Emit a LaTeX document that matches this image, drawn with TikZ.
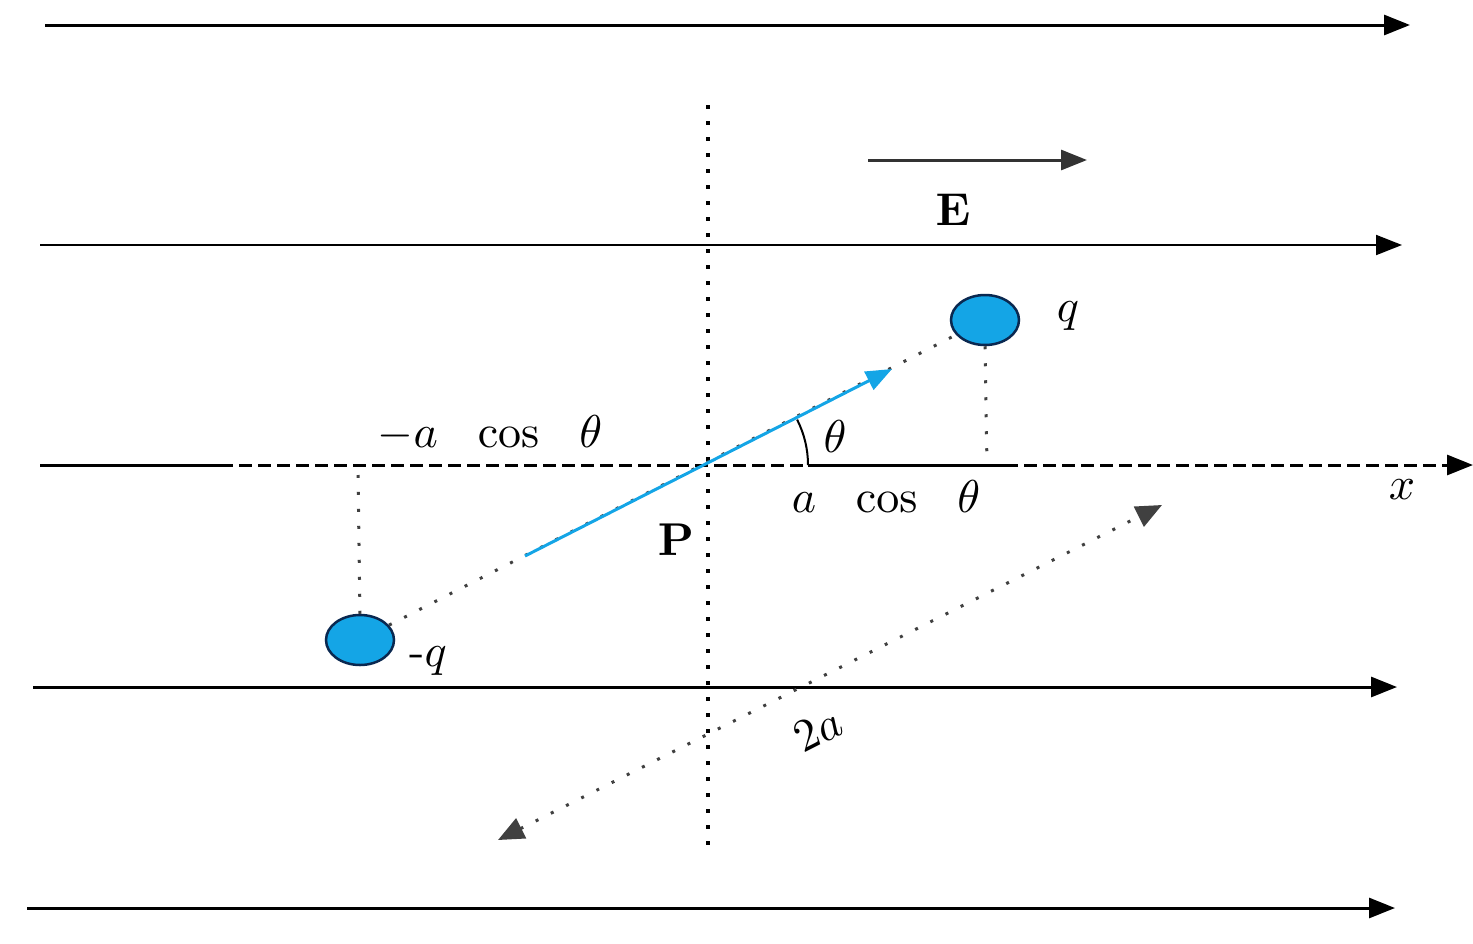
\documentclass[tikz,border=0pt]{standalone}
\usetikzlibrary{arrows.meta,shapes.geometric}
\definecolor{dipblue}{RGB}{20,165,230}
\definecolor{ringblue}{RGB}{10,40,80}
\begin{document}
\begin{tikzpicture}[x=1pt,y=-1pt,
  tipA/.style={-{Triangle[length=26pt,width=20pt]}},
  field/.style={line width=3pt,tipA},
  fieldthin/.style={line width=2pt,tipA},
  axis/.style={line width=3pt},
  axisdash/.style={line width=3pt,dash pattern=on 13pt off 6pt},
  vdot/.style={line width=4pt,dash pattern=on 4pt off 12pt},
  thindot/.style={line width=3pt,dash pattern=on 3pt off 14pt,black!75},
  charge/.style={ellipse,draw=ringblue,line width=2.5pt,fill=dipblue,minimum width=68pt,minimum height=50pt,inner sep=0pt},
  lbl/.style={inner sep=0pt,scale=4.6,transform shape}]
\useasboundingbox (0,0) rectangle (1473,943);
% field lines
\coordinate (f1a) at (45,25);   \coordinate (f1b) at (1410,25);
\coordinate (f2a) at (40,245);  \coordinate (f2b) at (1402,245);
\coordinate (f3a) at (33,687);  \coordinate (f3b) at (1397,687);
\coordinate (f4a) at (27,908);  \coordinate (f4b) at (1395,908);
\draw[field] (f1a) -- (f1b);
\draw[fieldthin] (f2a) -- (f2b);
\draw[field] (f3a) -- (f3b);
\draw[field] (f4a) -- (f4b);
% E arrow
\coordinate (ea) at (868,160); \coordinate (eb) at (1087,160);
\draw[line width=3pt,black!80,tipA] (ea) -- (eb);
\node[lbl] (E) at (953,210) {$\mathbf{E}$};
% x axis
\coordinate (P) at (708,465);
\coordinate (x0) at (40,465);
\coordinate (x1) at (220,465);
\coordinate (x2) at (808,465);
\coordinate (x3) at (1005,465);
\coordinate (x4) at (1473,465);
\draw[axis] (x0) -- (x1);
\draw[axisdash] (x1) -- (x2);
\draw[axis] (x2) -- (x3);
\draw[axisdash,-{Triangle[length=26pt,width=20pt]}] (x3) -- (x4);
\node[lbl] (xl) at (1402,490) {$x$};
% vertical dotted line
\coordinate (vt) at (708,105); \coordinate (vb) at (708,848);
\draw[vdot] (vt) -- (vb);
% charges
\node[charge] (qn) at (360,640) {};
\node[charge] (qp) at (985,320) {};
\node[lbl] (qpl) at (1068,316) {$q$};
\node[lbl] (qnl) at (428,661) {-$q$};
% dipole dotted line
\draw[thindot] (qn) -- (qp);
% projections
\coordinate (qpx) at (987,465);
\coordinate (qnx) at (358,475);
\draw[thindot] (qp.south) -- (qpx);
\draw[thindot] (qn.north) -- (qnx);
% blue dipole moment arrow
\coordinate (pa) at (525,556);
\coordinate (pb) at (892,369);
\draw[line width=3pt,dipblue,-{Triangle[length=26pt,width=20pt]}] (pa) -- (pb);
% angle
\draw[line width=2pt] ([shift={(0:100)}]P) arc[start angle=0,end angle=-27,radius=100];
\node[lbl] (th) at (835,437) {$\theta$};
% labels
\node[lbl] (lneg) at (490,433) {$-a\hspace{7pt}\cos\hspace{7pt}\theta$};
\node[lbl] (lpos) at (886,497) {$a\hspace{7pt}\cos\hspace{7pt}\theta$};
\node[lbl] (Pl) at (676,540) {$\mathbf{P}$};
% 2a dimension
\coordinate (da) at (498,840); \coordinate (db) at (1162,505);
\draw[thindot,{Triangle[length=26pt,width=22pt]}-{Triangle[length=26pt,width=22pt]}] (da) -- (db);
\node[lbl,rotate=27] (twoa) at (818,730) {$2a$};
\end{tikzpicture}
\end{document}
